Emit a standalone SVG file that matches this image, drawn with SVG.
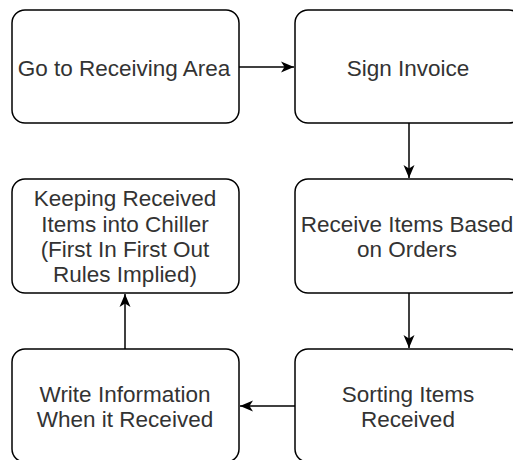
<svg xmlns="http://www.w3.org/2000/svg" width="513" height="460" viewBox="0 0 513 460">
<defs>
<style>
.box{fill:#fff;stroke:#000;stroke-width:1.5}
.lbl{font-family:"Liberation Sans",Arial,sans-serif;font-size:22.5px;fill:#333;text-anchor:middle}
.edge{fill:none;stroke:#000;stroke-width:1.5}
</style>
<marker id="arr" markerUnits="userSpaceOnUse" markerWidth="14" markerHeight="14" refX="13" refY="6.5" orient="auto">
<path d="M0,1 L13,6.5 L0,12 L3.5,6.5 Z" fill="#000"/>
</marker>
</defs>
<rect width="513" height="460" fill="#fff"/>
<g id="n1">
<rect class="box" x="12" y="10" width="227" height="113" rx="13"/>
<text class="lbl" x="124" y="75.5">Go to Receiving Area</text>
</g>
<g id="n2">
<rect class="box" x="295" y="10" width="227" height="113" rx="13"/>
<text class="lbl" x="408" y="75.5">Sign Invoice</text>
</g>
<g id="n3">
<rect class="box" x="295" y="179" width="227" height="114" rx="13"/>
<text class="lbl" x="407" y="231.5">Receive Items Based</text>
<text class="lbl" x="407" y="256.5">on Orders</text>
</g>
<g id="n4">
<rect class="box" x="295" y="349" width="227" height="113" rx="13"/>
<text class="lbl" x="408" y="401.5">Sorting Items</text>
<text class="lbl" x="408" y="426.5">Received</text>
</g>
<g id="n5">
<rect class="box" x="12" y="349" width="227" height="113" rx="13"/>
<text class="lbl" x="125" y="401.5">Write Information</text>
<text class="lbl" x="125" y="426.5">When it Received</text>
</g>
<g id="n6">
<rect class="box" x="12" y="179" width="227" height="114" rx="13"/>
<text class="lbl" x="125" y="206">Keeping Received</text>
<text class="lbl" x="125" y="231.5">Items into Chiller</text>
<text class="lbl" x="125" y="256.5">(First In First Out</text>
<text class="lbl" x="125" y="282">Rules Implied)</text>
</g>
<g id="connectors">
<path class="edge" d="M239,67 L294,67" marker-end="url(#arr)"/>
<path class="edge" d="M409,123 L409,178" marker-end="url(#arr)"/>
<path class="edge" d="M409,293 L409,348" marker-end="url(#arr)"/>
<path class="edge" d="M295,406 L240,406" marker-end="url(#arr)"/>
<path class="edge" d="M125,349 L125,294" marker-end="url(#arr)"/>
</g>
</svg>
